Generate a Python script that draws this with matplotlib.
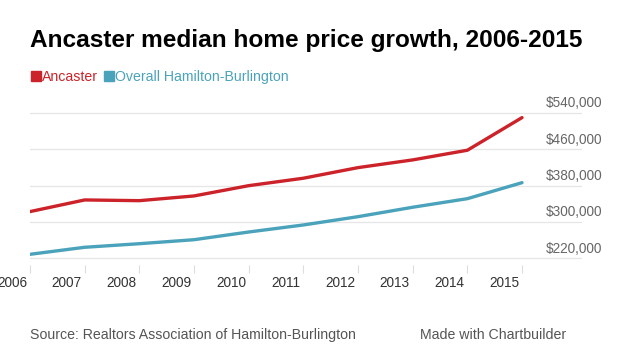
import numpy as np
import matplotlib
matplotlib.use("Agg")
import matplotlib.pyplot as plt
import matplotlib.transforms as mtrans
from matplotlib.patches import Rectangle

plt.rcParams['font.family'] = ['Liberation Sans', 'DejaVu Sans']

years = [2006, 2007, 2008, 2009, 2010, 2011, 2012, 2013, 2014, 2015]
ancaster = [323000, 348700, 347100, 357500, 380200, 396600, 420000, 437000, 458300, 530300]
hamilton = [228800, 244300, 252200, 261000, 278000, 293500, 311800, 332600, 351500, 386800]
y_ticks = [220000, 300000, 380000, 460000, 540000]
y_labels = ['$220,000', '$300,000', '$380,000', '$460,000', '$540,000']
series_names = ['Ancaster', 'Overall Hamilton-Burlington']

RED = '#cc2229'
BLUE = '#4aa3bb'

W, H = 620, 349
fig = plt.figure(figsize=(W / 100, H / 100), dpi=100)

# axes box in pixels: x 30..582, y 110..265 (top..bottom)
ax = fig.add_axes([30 / W, (H - 265) / H, (582 - 30) / W, (265 - 110) / H])
px_per_val = (258.3 - 113.2) / (540000 - 220000)
ax.set_ylim(220000 - (265 - 258.3) / px_per_val, 540000 + (113.2 - 110) / px_per_val)
ax.set_xlim(2006, 2015 + (582 - 522) / 54.7)

for v in y_ticks:
    ax.axhline(v, color='#e6e6e6', lw=0.9, zorder=1)

ax.plot(years, hamilton, color=BLUE, lw=2.4, zorder=3, solid_capstyle='round')
ax.plot(years, ancaster, color=RED, lw=2.4, zorder=3, solid_capstyle='round')

for s in ax.spines.values():
    s.set_visible(False)
ax.set_yticks([])
ax.set_xticks(years)
ax.set_xticklabels([])
ax.tick_params(axis='x', direction='out', length=6, width=0.8, color='#dddddd')

# x labels sit just left of their tick
lab_tr = mtrans.offset_copy(ax.get_xaxis_transform(), fig=fig, x=-2, y=-13, units='points')
for yr in years:
    ax.text(yr, 0, str(yr), transform=lab_tr, ha='right', va='center',
            fontsize=9.8, color='#333333')

# y labels above gridlines, on the right
ylab_tr = mtrans.offset_copy(ax.get_yaxis_transform(), fig=fig, x=0, y=7, units='points')
for v, lab in zip(y_ticks, y_labels):
    ax.text((602 - 30) / (582 - 30), v, lab, transform=ylab_tr,
            ha='right', va='center', fontsize=9.8, color='#666666')

fig.text(30 / W, (H - 46.7) / H, 'Ancaster median home price growth, 2006-2015',
         fontsize=17.6, fontweight='bold', color='black', va='baseline')

# legend
fig.patches.append(Rectangle((31 / W, (H - 80.7) / H), 9.5 / W, 9.5 / H,
                             transform=fig.transFigure, color=RED))
fig.text(42 / W, (H - 80.7) / H, series_names[0], fontsize=10.2, color=RED, va='baseline')
fig.patches.append(Rectangle((104 / W, (H - 80.7) / H), 9.5 / W, 9.5 / H,
                             transform=fig.transFigure, color=BLUE))
fig.text(115 / W, (H - 80.7) / H, series_names[1], fontsize=10.2, color=BLUE, va='baseline')

fig.text(30 / W, (H - 335) / H, 'Source: Realtors Association of Hamilton-Burlington',
         fontsize=10.2, color='#555555', va='center')
fig.text(420 / W, (H - 335) / H, 'Made with Chartbuilder',
         fontsize=10.2, color='#555555', va='center')

fig.savefig('out.png', dpi=100)
